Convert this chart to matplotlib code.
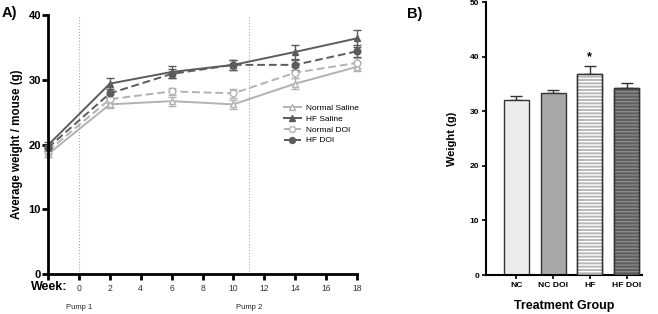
import matplotlib
matplotlib.use("Agg")
import matplotlib.pyplot as plt
from matplotlib.lines import Line2D
import numpy as np

plt.rcParams['font.family'] = ['Liberation Sans', 'DejaVu Sans']
plt.rcParams['hatch.linewidth'] = 1.0

# ---- Panel A data ----
weeks = [-2, 2, 6, 10, 14, 18]
normal_saline = [18.5, 26.2, 26.7, 26.2, 29.4, 32.0]
normal_saline_err = [0.5, 0.6, 0.7, 0.7, 0.9, 0.7]
hf_saline = [19.9, 29.4, 31.2, 32.3, 34.3, 36.4]
hf_saline_err = [0.5, 0.8, 0.9, 0.8, 1.1, 1.3]
normal_doi = [19.0, 27.0, 28.2, 27.9, 31.1, 32.6]
normal_doi_err = [0.5, 0.6, 0.6, 0.7, 0.9, 0.8]
hf_doi = [19.5, 27.9, 30.9, 32.3, 32.3, 34.4]
hf_doi_err = [0.5, 0.7, 0.7, 0.8, 0.8, 0.9]
week_ticks = [0, 2, 4, 6, 8, 10, 12, 14, 16, 18]
pump_weeks = [0, 11]
pump_labels = ['Pump 1', 'Pump 2']

# ---- Panel B data ----
groups = ['NC', 'NC DOI', 'HF', 'HF DOI']
weights = [32.0, 33.3, 36.8, 34.3]
weights_err = [0.7, 0.5, 1.4, 0.9]

fig = plt.figure(figsize=(6.58, 3.14), dpi=100)

# ================= Panel A =================
axA = fig.add_axes([0.073, 0.1274, 0.4696, 0.8248])
light = '#b2b2b2'
dark = '#5c5c5c'
series = [
    (normal_saline, normal_saline_err, 'Normal Saline', light, '-', '^', 'white'),
    (hf_saline, hf_saline_err, 'HF Saline', dark, '-', '^', dark),
    (normal_doi, normal_doi_err, 'Normal DOI', light, '--', 'o', 'white'),
    (hf_doi, hf_doi_err, 'HF DOI', dark, '--', 'o', dark),
]
handles = []
for vals, err, lab, col, ls, mk, mfc in series:
    kw = dict(dashes=(4, 2)) if ls == '--' else {}
    axA.errorbar(weeks, vals, yerr=err, color=col, ls=ls, lw=1.4,
                 marker=mk, ms=4.8, mfc=mfc, mec=col, mew=1.0,
                 capsize=3, elinewidth=1.0, capthick=1.0, clip_on=False, **kw)
    handles.append(Line2D([], [], color=col, ls=ls, lw=1.4, marker=mk, ms=4.3,
                          mfc=mfc, mec=col, mew=1.0, label=lab, **kw))

for pw in pump_weeks:
    axA.axvline(pw, color='#aaaaaa', ls=':', lw=0.8, zorder=0)
for pw, pl in zip(pump_weeks, pump_labels):
    axA.text(pw, -0.13, pl, transform=axA.get_xaxis_transform(),
             ha='center', va='center', fontsize=5.5, color='#222222')

axA.set_xlim(-2, 18)
axA.set_ylim(0, 40)
axA.set_yticks([0, 10, 20, 30, 40])
axA.set_xticks([-2] + week_ticks)
axA.set_xticklabels([''] + [str(w) for w in week_ticks], fontsize=6.2, color='#333333')
for lbl in axA.get_yticklabels():
    lbl.set_fontweight('bold')
    lbl.set_fontsize(8)
axA.tick_params(axis='both', width=2, length=4)
axA.tick_params(axis='x', pad=3)
axA.tick_params(axis='y', pad=1)
for s in ['top', 'right']:
    axA.spines[s].set_visible(False)
for s in ['left', 'bottom']:
    axA.spines[s].set_linewidth(2)
axA.set_ylabel('Average weight / mouse (g)', fontsize=8.3, fontweight='bold', labelpad=4)
axA.text(-0.055, -0.05, 'Week:', transform=axA.transAxes, ha='left', va='center',
         fontsize=9, fontweight='bold')
axA.legend(handles=handles, loc='upper left', bbox_to_anchor=(0.764, 0.655), frameon=False,
           fontsize=6, handlelength=2.0, handletextpad=0.6, labelspacing=0.35,
           borderaxespad=0, borderpad=0)
fig.text(0.002, 0.96, 'A)', fontsize=10.5, fontweight='bold', va='center')

# ================= Panel B =================
axB = fig.add_axes([0.7386, 0.124, 0.237, 0.8696])
x = np.arange(len(groups))
faces = ['#ececec', '#a8a8a8', '#b8b8b8', '#5e5e5e']
hatches = [None, None, '-----', '-----']
hatch_colors = [None, None, '#ffffff', '#8a8a8a']
for i in range(len(groups)):
    axB.bar(x[i], weights[i], width=0.68, color=faces[i], edgecolor='#333333',
            linewidth=1.0, zorder=2)
    if hatches[i]:
        axB.bar(x[i], weights[i], width=0.68, color='none', edgecolor=hatch_colors[i],
                hatch=hatches[i], linewidth=0, zorder=3)
        axB.bar(x[i], weights[i], width=0.68, color='none', edgecolor='#333333',
                linewidth=1.0, zorder=4)
    axB.errorbar(x[i], weights[i], yerr=[[0], [weights_err[i]]], color='#333333',
                 capsize=4, elinewidth=1.0, capthick=1.0, zorder=1)
axB.text(x[2], weights[2] + weights_err[2] + 0.6, '*', ha='center', va='bottom',
         fontsize=9, fontweight='bold')
axB.set_xlim(-0.824, 3.42)
axB.set_ylim(0, 50)
axB.set_yticks([0, 10, 20, 30, 40, 50])
axB.set_xticks(x)
axB.set_xticklabels(groups, fontsize=6.1, fontweight='bold')
for lbl in axB.get_yticklabels():
    lbl.set_fontweight('bold')
    lbl.set_fontsize(6)
axB.tick_params(axis='both', width=1.2, length=3, pad=2)
for s in ['top', 'right']:
    axB.spines[s].set_visible(False)
for s in ['left', 'bottom']:
    axB.spines[s].set_linewidth(1.5)
axB.set_ylabel('Weight (g)', fontsize=8, fontweight='bold', labelpad=9)
axB.set_xlabel('Treatment Group', fontsize=9, fontweight='bold', labelpad=8)
fig.text(0.618, 0.955, 'B)', fontsize=10.5, fontweight='bold', va='center')

fig.savefig('out.png', dpi=100)
